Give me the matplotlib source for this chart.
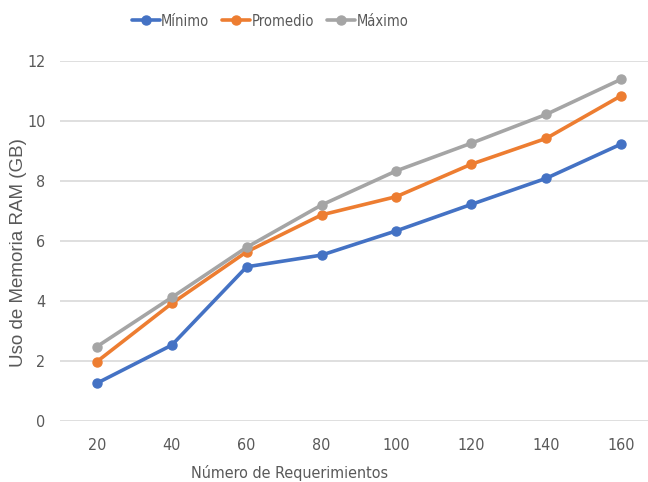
import matplotlib
matplotlib.use("Agg")
import matplotlib.pyplot as plt
from matplotlib import font_manager
import numpy as np

# Uso de memoria RAM por número de requerimientos
requerimientos = [20, 40, 60, 80, 100, 120, 140, 160]
minimo = [1.26, 2.53, 5.14, 5.53, 6.34, 7.22, 8.09, 9.23]
promedio = [1.98, 3.92, 5.64, 6.87, 7.48, 8.56, 9.42, 10.84]
maximo = [2.48, 4.12, 5.79, 7.20, 8.34, 9.26, 10.22, 11.39]
y_ticks = [0, 2, 4, 6, 8, 10, 12]

txt_color = '#595959'
narrow = font_manager.FontProperties(family='DejaVu Sans', stretch='condensed', size=11.5)

fig = plt.figure(figsize=(6.48, 4.82), dpi=100)
# el área de trazado sigue un poco más allá del borde derecho
ax = fig.add_axes([59.5 / 648, 61 / 482, 599 / 648, 360 / 482])

x = np.arange(len(requerimientos))
series = [('Mínimo', minimo, '#4472C4'),
          ('Promedio', promedio, '#ED7D31'),
          ('Máximo', maximo, '#A5A5A5')]
for nombre, vals, col in series:
    ax.plot(x, vals, color=col, lw=2.6, marker='o', ms=6.5,
            solid_capstyle='round', label=nombre, zorder=3)

ax.set_xlim(-0.5, len(requerimientos) - 0.5)
ax.set_ylim(0, 12)
ax.set_yticks(y_ticks)
ax.set_xticks(x)
ax.set_xticklabels([str(r) for r in requerimientos])
ax.grid(axis='y', color='#D9D9D9', lw=1.2)
ax.set_axisbelow(True)
for s in ax.spines.values():
    s.set_visible(False)
ax.tick_params(length=0, colors=txt_color, pad=12)
for lab in ax.get_xticklabels() + ax.get_yticklabels():
    lab.set_fontproperties(narrow)
ax.tick_params(axis='y', pad=10)

xl_prop = narrow.copy()
xl_prop.set_size(11.5)
ax.set_xlabel('Número de Requerimientos', fontproperties=xl_prop, color=txt_color)
ax.xaxis.set_label_coords((290 - 59.5) / 599, -44 / 360)
ax.set_ylabel('Uso de Memoria RAM (GB)', family=['Liberation Sans', 'DejaVu Sans'],
              fontsize=13.5, color=txt_color)
ax.yaxis.set_label_coords(-32 / 599, (421 - 253) / 360)

leg_prop = narrow.copy()
leg_prop.set_size(10.5)
leg = fig.legend(loc='center', bbox_to_anchor=(270 / 648, 1 - 21 / 482), ncol=3,
                 frameon=False, prop=leg_prop,
                 handlelength=1.9, columnspacing=0.9, handletextpad=0.1)
for t in leg.get_texts():
    t.set_color(txt_color)

fig.savefig('out.png', dpi=100)
